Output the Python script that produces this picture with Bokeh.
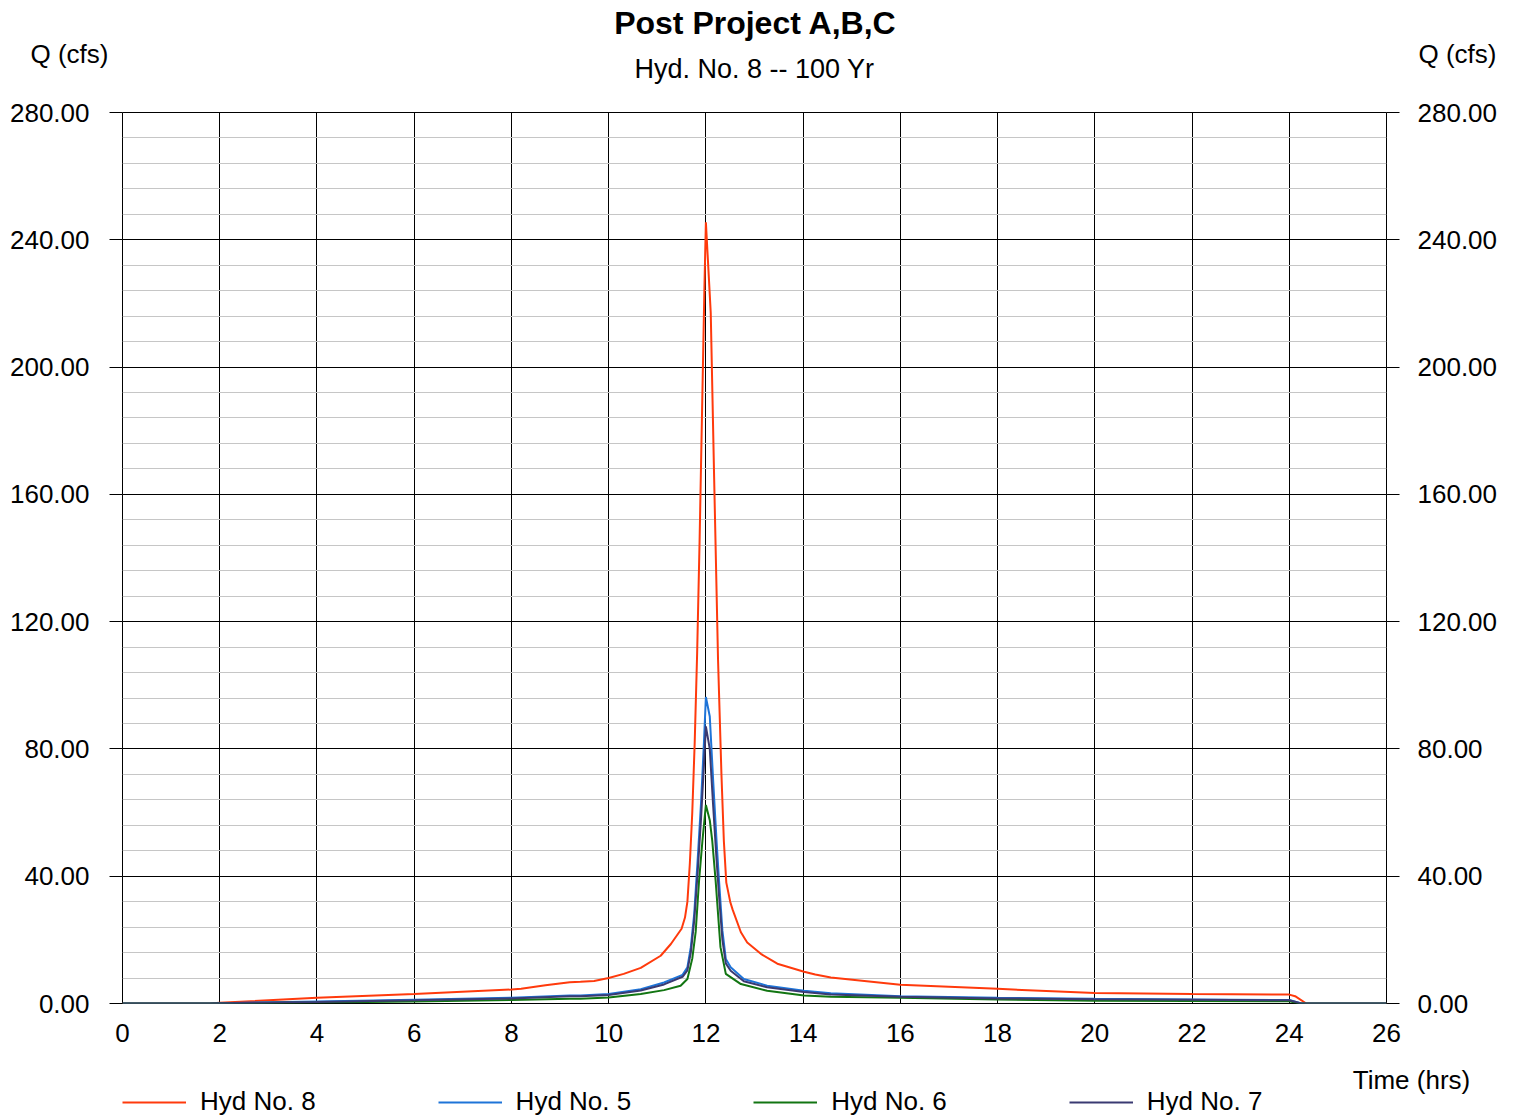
from bokeh.plotting import figure
from bokeh.layouts import column
from bokeh.models import (Range1d, SingleIntervalTicker, LinearAxis,
                          Legend, LegendItem, NumeralTickFormatter)
from bokeh.core.properties import value
from bokeh.embed import file_html
from bokeh.resources import INLINE

# ---------------- data ----------------
title_text = "Post Project A,B,C"
subtitle_text = "Hyd. No. 8 -- 100 Yr"
y_label = "Q (cfs)"
x_label = "Time (hrs)"

x_ticks = list(range(0, 27, 2))
y_ticks = [0, 40, 80, 120, 160, 200, 240, 280]

# Hyd No. 8
t8 = [0, 1.8, 2, 4, 6, 8, 8.2, 8.7, 9.2, 9.42, 9.7, 10.0, 10.31, 10.66, 11.07, 11.28,
      11.5, 11.57, 11.62, 11.67, 11.72, 11.77, 11.82, 11.87, 11.92, 11.97, 12.0,
      12.1, 12.17, 12.25, 12.32, 12.37, 12.42, 12.5, 12.55, 12.72, 12.85, 13.13,
      13.47, 14.02, 14.25, 14.57, 16, 18, 20, 22, 24, 24.12, 24.35, 26]
q8 = [0, 0, 0.2, 1.8, 3.0, 4.4, 4.6, 5.7, 6.7, 6.8, 7.1, 8.0, 9.3, 11.2, 15.0, 18.7,
      23.5, 27, 32, 44, 60, 82, 110, 145, 185, 225, 245.5,
      217, 165, 108, 72, 51, 38, 32, 29.5, 22.4, 19.2, 15.6,
      12.5, 10.0, 9.1, 8.2, 5.9, 4.6, 3.3, 3.0, 2.8, 2.3, 0, 0]

# Hyd No. 5
t5 = [0, 1.8, 2, 4, 6, 8, 9.2, 9.42, 10.0, 10.66, 11.14, 11.52, 11.62, 11.69, 11.76,
      11.83, 11.9, 11.96, 12.0, 12.08, 12.15, 12.22, 12.27, 12.34, 12.41, 12.51,
      12.78, 13.26, 14.02, 14.57, 16, 18, 20, 22, 24, 24.25, 26]
q5 = [0, 0, 0.1, 0.6, 1.2, 1.8, 2.5, 2.5, 3.0, 4.5, 6.6, 9.0, 11.4, 17.7, 28.2,
      45, 63, 82, 96.3, 90.2, 70, 51, 38.7, 22.9, 14.0, 11.4,
      7.7, 5.6, 4.0, 3.2, 2.3, 1.8, 1.5, 1.25, 1.1, 0, 0]

# Hyd No. 6
t6 = [0, 1.8, 2, 4, 6, 8, 9.2, 9.42, 10.0, 10.66, 11.14, 11.48, 11.62, 11.72, 11.79,
      11.86, 11.93, 12.0, 12.08, 12.13, 12.2, 12.3, 12.41, 12.72, 13.26, 14.02,
      14.57, 16, 18, 20, 22, 24, 24.2, 26]
q6 = [0, 0, 0.05, 0.3, 0.6, 1.1, 1.5, 1.5, 1.9, 3.0, 4.2, 5.6, 7.7, 14.1, 22.5,
      38.7, 51.3, 62.4, 57.6, 51.3, 38.7, 17.7, 9.3, 6.1, 4.0, 2.5,
      2.1, 1.8, 1.25, 0.9, 0.8, 0.7, 0, 0]

# Hyd No. 7
t7 = [0, 1.8, 2, 4, 6, 8, 9.2, 9.42, 10.0, 10.66, 11.14, 11.52, 11.62, 11.69, 11.76,
      11.83, 11.9, 11.96, 12.0, 12.08, 12.15, 12.22, 12.27, 12.34, 12.41, 12.51,
      12.78, 13.26, 14.02, 14.57, 16, 18, 20, 22, 24, 24.25, 26]
q7 = [0, 0, 0.1, 0.5, 1.0, 1.6, 2.3, 2.3, 2.7, 4.1, 6.0, 8.4, 10.4, 16, 26,
      41, 58, 75, 87.1, 80, 62, 45, 34, 20, 12.6, 10.3,
      7.0, 5.1, 3.6, 2.8, 2.1, 1.6, 1.3, 1.2, 1.0, 0, 0]

series_names = ["Hyd No. 8", "Hyd No. 5", "Hyd No. 6", "Hyd No. 7"]
series_t = [t8, t5, t6, t7]
series_q = [q8, q5, q6, q7]
series_colors = ["#ff3a0c", "#1e74d8", "#127512", "#3a3a72"]

FONT = "Liberation Sans"
W = 1516
HEAD_H = 88
MAIN_BOTTOM = 49
FOOT_H = 63
FOOT_TOP = 1003 + MAIN_BOTTOM


def strip(fig):
    fig.xaxis.visible = False
    fig.yaxis.visible = False
    fig.xgrid.visible = False
    fig.ygrid.visible = False
    fig.outline_line_color = None
    fig.min_border = 0
    fig.min_border_left = 0
    fig.min_border_right = 0
    fig.min_border_top = 0
    fig.min_border_bottom = 0
    fig.frame_align = False


# ---------------- header (titles + Q labels) ----------------
head = figure(width=W, height=HEAD_H, output_backend="svg", toolbar_location=None,
              x_range=Range1d(0, W), y_range=Range1d(HEAD_H, 0))
strip(head)
head.text(x=[755], y=[22], text=[title_text], text_font=value(FONT),
          text_font_size="32px", text_font_style="bold", text_align="center",
          text_baseline="middle", text_color="black")
head.text(x=[754], y=[68], text=[subtitle_text], text_font=value(FONT),
          text_font_size="27px", text_align="center", text_baseline="middle",
          text_color="black")
head.text(x=[108], y=[53], text=[y_label], text_font=value(FONT),
          text_font_size="26px", text_align="right", text_baseline="middle",
          text_color="black")
head.text(x=[1418], y=[53], text=[y_label], text_font=value(FONT),
          text_font_size="26px", text_align="left", text_baseline="middle",
          text_color="black")

# ---------------- main plot ----------------
p = figure(width=W, height=(112 - HEAD_H) + 891 + MAIN_BOTTOM, output_backend="svg",
           toolbar_location=None,
           x_range=Range1d(0, 26), y_range=Range1d(0, 280),
           min_border_left=122, min_border_right=W - 1386,
           min_border_top=112 - HEAD_H, min_border_bottom=MAIN_BOTTOM,
           background_fill_color="white", border_fill_color="white")
p.outline_line_color = "black"
p.frame_align = False

p.xaxis.ticker = x_ticks
p.xaxis.major_tick_out = 0
p.xaxis.major_tick_in = 0
p.xaxis.minor_tick_out = 0
p.xaxis.minor_tick_in = 0
p.xaxis.axis_line_color = None
p.xaxis.major_label_standoff = 20
p.xaxis.major_label_text_font = FONT
p.xaxis.major_label_text_font_size = "26px"
p.xaxis.major_label_text_color = "black"

yt = SingleIntervalTicker(interval=40, num_minor_ticks=5)
p.yaxis.ticker = yt
p.yaxis.formatter = NumeralTickFormatter(format="0.00")
p.yaxis.major_tick_out = 13
p.yaxis.major_tick_in = 0
p.yaxis.minor_tick_out = 0
p.yaxis.minor_tick_in = 0
p.yaxis.major_tick_line_color = "black"
p.yaxis.axis_line_color = None
p.yaxis.major_label_standoff = 20
p.yaxis.major_label_text_font = FONT
p.yaxis.major_label_text_font_size = "26px"
p.yaxis.major_label_text_color = "black"

ra = LinearAxis(ticker=SingleIntervalTicker(interval=40, num_minor_ticks=5),
                formatter=NumeralTickFormatter(format="0.00"))
ra.major_tick_out = 13
ra.major_tick_in = 0
ra.minor_tick_out = 0
ra.minor_tick_in = 0
ra.major_tick_line_color = "black"
ra.axis_line_color = None
ra.major_label_standoff = 18
ra.major_label_text_font = FONT
ra.major_label_text_font_size = "26px"
ra.major_label_text_color = "black"
p.add_layout(ra, "right")

p.xgrid.ticker = x_ticks
p.xgrid.grid_line_color = "black"
p.ygrid.ticker = yt
p.ygrid.grid_line_color = "black"
p.ygrid.minor_grid_line_color = "#c6c6c6"

for name, t, q, c in zip(series_names, series_t, series_q, series_colors):
    p.line(t, q, line_color=c, line_width=2)

# ---------------- footer (x label + legend) ----------------
foot = figure(width=W, height=FOOT_H, output_backend="svg", toolbar_location=None,
              x_range=Range1d(0, W), y_range=Range1d(FOOT_H, 0))
strip(foot)
foot.text(x=[1411], y=[1079 - FOOT_TOP], text=[x_label], text_font=value(FONT),
          text_font_size="26px", text_align="center", text_baseline="middle",
          text_color="black")
items = []
for name, t, q, c in zip(series_names, series_t, series_q, series_colors):
    # hidden copies of the series, used only for the legend samples
    r = foot.line(t, q, line_color=c, line_width=2, visible=False)
    items.append(LegendItem(label=name, renderers=[r]))
legend = Legend(items=items, orientation="horizontal",
                location=(122, FOOT_H - (1101 - FOOT_TOP) - 16),
                glyph_width=64, glyph_height=26, label_height=26,
                label_standoff=14, spacing=122,
                padding=0, margin=0, border_line_color=None,
                background_fill_alpha=0,
                label_text_font=FONT, label_text_font_size="26px",
                label_text_color="black")
foot.add_layout(legend, "center")

layout = column(head, p, foot, spacing=0)
open("out.html", "w").write(file_html(layout, INLINE))
